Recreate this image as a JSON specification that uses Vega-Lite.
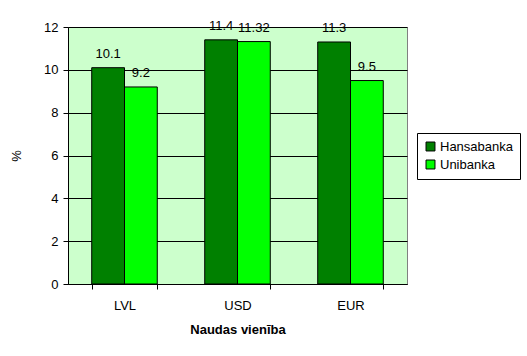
{
  "$schema": "https://vega.github.io/schema/vega-lite/v6.json",
  "autosize": "none",
  "width": 339,
  "height": 257,
  "padding": {"left": 68, "top": 27, "right": 120, "bottom": 72},
  "background": "white",
  "config": {
    "font": "Liberation Sans",
    "view": {"fill": "#CCFFCC", "stroke": "#808080", "strokeWidth": 1}
  },
  "data": {
    "values": [
      {"valuta": "LVL", "banka": "Hansabanka", "procenti": 10.1, "label": "10.1"},
      {"valuta": "LVL", "banka": "Unibanka", "procenti": 9.2, "label": "9.2"},
      {"valuta": "USD", "banka": "Hansabanka", "procenti": 11.4, "label": "11.4"},
      {"valuta": "USD", "banka": "Unibanka", "procenti": 11.32, "label": "11.32"},
      {"valuta": "EUR", "banka": "Hansabanka", "procenti": 11.3, "label": "11.3"},
      {"valuta": "EUR", "banka": "Unibanka", "procenti": 9.5, "label": "9.5"}
    ]
  },
  "encoding": {
    "x": {
      "field": "valuta", "type": "nominal", "sort": ["LVL", "USD", "EUR"],
      "scale": {"paddingInner": 0.42, "paddingOuter": 0.21},
      "axis": {
        "title": "Naudas vienība", "titleFont": "Liberation Sans", "titleFontSize": 13, "titleFontWeight": "bold",
        "titleColor": "black", "titlePadding": 11,
        "labelAngle": 0, "labelFontSize": 13, "labelColor": "black", "labelPadding": 10,
        "domainColor": "black", "tickColor": "black", "tickSize": 5, "tickBand": "extent"
      }
    },
    "xOffset": {"field": "banka", "type": "nominal", "sort": ["Hansabanka", "Unibanka"], "scale": {"paddingInner": 0, "paddingOuter": 0}},
    "y": {
      "field": "procenti", "type": "quantitative",
      "scale": {"domain": [0, 12], "nice": false},
      "axis": {
        "title": "%", "titleFontWeight": "normal", "titleFontSize": 13, "titleColor": "black", "titlePadding": 20,
        "values": [0, 2, 4, 6, 8, 10, 12], "labelFontSize": 13, "labelColor": "black", "labelPadding": 5,
        "domainColor": "black", "tickColor": "black", "tickSize": 5,
        "grid": true, "gridColor": "black", "gridOpacity": 1
      }
    }
  },
  "layer": [
    {
      "mark": {"type": "bar", "stroke": "black", "strokeWidth": 1},
      "encoding": {
        "color": {
          "field": "banka", "type": "nominal",
          "scale": {"domain": ["Hansabanka", "Unibanka"], "range": ["#008000", "#00FF00"]},
          "legend": {
            "title": null, "orient": "none", "legendX": 349, "legendY": 106,
            "fillColor": "white", "strokeColor": "black", "padding": 7,
            "symbolType": "square", "symbolSize": 80, "symbolStrokeColor": "black", "symbolStrokeWidth": 1,
            "labelFontSize": 13, "labelColor": "black", "rowPadding": 4, "labelOffset": 3
          }
        }
      }
    },
    {
      "mark": {"type": "text", "baseline": "bottom", "dy": -7, "fontSize": 13, "color": "black"},
      "encoding": {"text": {"field": "label"}}
    }
  ]
}
